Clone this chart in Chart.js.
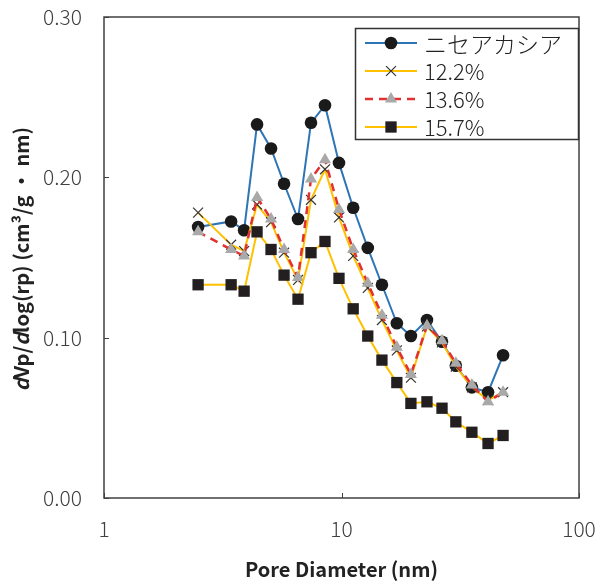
<!DOCTYPE html>
<html><head><meta charset="utf-8">
<script src="https://cdn.jsdelivr.net/npm/chart.js@4/dist/chart.umd.min.js"></script>
<style>html,body{margin:0;padding:0;background:#fff}#wrap{width:613px;height:581px}</style>
</head><body><div id="wrap"><canvas id="c" width="613" height="581"></canvas></div>
<script>
const poreDiameter = [2.49,3.43,3.89,4.41,5.05,5.73,6.56,7.44,8.52,9.76,11.2,12.9,14.8,17.1,19.6,22.9,26.5,30.3,35.4,41.4,47.9];
const seriesNames = ['ニセアカシア','12.2%','13.6%','15.7%'];
const niseAkashia = [0.169,0.1725,0.167,0.233,0.218,0.196,0.174,0.234,0.245,0.209,0.181,0.156,0.133,0.109,0.101,0.111,0.0975,0.0825,0.069,0.066,0.089];
const s122 = [0.178,0.158,0.154,0.183,0.172,0.153,0.136,0.186,0.205,0.175,0.151,0.131,0.111,0.092,0.075,0.107,0.097,0.082,0.069,0.061,0.066];
const s136 = [0.166,0.155,0.151,0.1875,0.174,0.155,0.1375,0.199,0.211,0.180,0.155,0.134,0.114,0.094,0.077,0.1075,0.098,0.084,0.0705,0.060,0.066];
const s157 = [0.133,0.133,0.129,0.166,0.155,0.139,0.124,0.153,0.160,0.137,0.118,0.101,0.086,0.072,0.059,0.060,0.056,0.0475,0.041,0.034,0.039];
const xTicks = [1,10,100];
const yTicks = [0,0.1,0.2,0.3];

const FONT = "'Noto Sans CJK JP','Noto Sans',sans-serif";
const toPts = ys => ys.map((y,i)=>({x:poreDiameter[i], y}));

const datasets = [
  {label:seriesNames[0], data:toPts(niseAkashia), borderColor:'#2E75B6', borderWidth:2,
   pointStyle:'circle', pointRadius:6.3, pointBackgroundColor:'#1a1a1a', pointBorderColor:'#1a1a1a', pointBorderWidth:0, order:4},
  {label:seriesNames[1], data:toPts(s122), borderColor:'#FFC000', borderWidth:2,
   pointStyle:'crossRot', pointRadius:7, pointBackgroundColor:'#333', pointBorderColor:'#333', pointBorderWidth:1.2, order:3},
  {label:seriesNames[2], data:toPts(s136), borderColor:'#E0302F', borderWidth:2.5, borderDash:[8,6],
   pointStyle:'triangle', pointRadius:7, pointBackgroundColor:'#A9A9A9', pointBorderColor:'#A9A9A9', pointBorderWidth:0, order:2},
  {label:seriesNames[3], data:toPts(s157), borderColor:'#FFC000', borderWidth:2,
   pointStyle:'rect', pointRadius:8, pointBackgroundColor:'#231F20', pointBorderColor:'#231F20', pointBorderWidth:0, order:1}
];

function drawMarker(ctx, style, r, x, y, fill, stroke, bw){
  ctx.save();
  ctx.fillStyle = fill; ctx.strokeStyle = stroke; ctx.lineWidth = bw;
  ctx.setLineDash([]);
  ctx.beginPath();
  if (style==='circle'){ ctx.arc(x,y,r,0,Math.PI*2); ctx.fill(); }
  else if (style==='rect'){ const s=Math.SQRT1_2*r; ctx.fillRect(x-s,y-s,2*s,2*s); }
  else if (style==='triangle'){
    let a=-Math.PI/2; ctx.moveTo(x+Math.cos(a)*r, y+Math.sin(a)*r);
    for(let k=1;k<3;k++){ a+=2*Math.PI/3; ctx.lineTo(x+Math.cos(a)*r, y+Math.sin(a)*r); }
    ctx.closePath(); ctx.fill();
  } else if (style==='crossRot'){
    const s=Math.SQRT1_2*r; ctx.moveTo(x-s,y-s); ctx.lineTo(x+s,y+s); ctx.moveTo(x+s,y-s); ctx.lineTo(x-s,y+s); ctx.stroke();
  }
  ctx.restore();
}

const framePlugin = {
  id:'frame',
  afterDatasetsDraw(chart){
    const {ctx, chartArea:a, scales} = chart;
    ctx.save();
    ctx.strokeStyle = '#404040'; ctx.lineWidth = 1.5;
    ctx.strokeRect(a.left, a.top, a.right-a.left, a.bottom-a.top);
    ctx.lineWidth = 1;
    ctx.beginPath();
    yTicks.forEach(v=>{ const py=Math.round(scales.y.getPixelForValue(v))+0.5; ctx.moveTo(a.left,py); ctx.lineTo(a.left+5,py); });
    xTicks.forEach(v=>{ const px=Math.round(scales.x.getPixelForValue(v))+0.5; ctx.moveTo(px,a.bottom); ctx.lineTo(px,a.bottom-5); });
    ctx.stroke();
    ctx.restore();
  },
  afterDraw(chart){
    const ctx = chart.ctx;
    const bx=355.5, by=28.5, bw=223, bh=111;
    ctx.save();
    ctx.fillStyle='#fff'; ctx.fillRect(bx,by,bw,bh);
    ctx.strokeStyle='#333'; ctx.lineWidth=1.5; ctx.strokeRect(bx,by,bw,bh);
    const rows=[43,71,99,127];
    chart.data.datasets.forEach((ds,i)=>{
      const y=rows[i];
      ctx.save();
      ctx.strokeStyle=ds.borderColor; ctx.lineWidth=ds.borderWidth;
      ctx.setLineDash(ds.borderDash||[]);
      ctx.beginPath(); ctx.moveTo(365,y); ctx.lineTo(417,y); ctx.stroke();
      ctx.restore();
      drawMarker(ctx, ds.pointStyle, ds.pointRadius, 391, y, ds.pointBackgroundColor, ds.pointBorderColor, ds.pointBorderWidth);
      ctx.fillStyle='#222'; ctx.textBaseline='middle'; ctx.textAlign='left';
      ctx.font = (i===0 ? "300 23px " : "300 22px ") + FONT;
      ctx.fillText(ds.label, 424, y+1);
    });
    ctx.restore();
    ctx.save();
    const cx=21, cy=259;
    ctx.translate(cx,cy); ctx.rotate(-Math.PI/2);
    const segs=[['d',true],['Vp/',false],['d',true],['log(rp) (cm³/g ・ nm)',false]];
    const fN="bold 20px "+FONT, fI="italic bold 20px "+FONT;
    let total=0; segs.forEach(s=>{ctx.font=s[1]?fI:fN; total+=ctx.measureText(s[0]).width;});
    let x=-total/2;
    ctx.fillStyle='#222'; ctx.textBaseline='middle'; ctx.textAlign='left';
    segs.forEach(s=>{ctx.font=s[1]?fI:fN; ctx.fillText(s[0],x,0); x+=ctx.measureText(s[0]).width;});
    ctx.restore();
  }
};

new Chart(document.getElementById('c'), {
  type:'line',
  data:{datasets},
  options:{
    responsive:false, animation:false, devicePixelRatio:1,
    layout:{padding:{left:0,right:34,top:17,bottom:0}},
    plugins:{legend:{display:false}, tooltip:{enabled:false}},
    scales:{
      x:{type:'logarithmic', min:1, max:100,
        afterBuildTicks(s){ s.ticks = xTicks.map(v=>({value:v})); },
        afterFit(s){ s.height = 83; s.paddingLeft=0; s.paddingRight=0; },
        grid:{display:false, drawTicks:false}, border:{display:false},
        ticks:{autoSkip:false, maxRotation:0, padding:18, color:'#404040', font:{size:21, weight:300, family:FONT}, callback:v=>String(v)},
        title:{display:true, text:'Pore Diameter (nm)', color:'#222', font:{size:20, weight:'bold', family:FONT}, padding:{top:1,bottom:0}}
      },
      y:{type:'linear', min:0, max:0.3,
        afterBuildTicks(s){ s.ticks = yTicks.map(v=>({value:v})); },
        afterFit(s){ s.width = 104; s.paddingTop=0; s.paddingBottom=0; },
        grid:{display:false, drawTicks:false}, border:{display:false},
        ticks:{padding:22, color:'#404040', font:{size:21, weight:300, family:FONT}, callback:v=>v.toFixed(2)}
      }
    }
  },
  plugins:[framePlugin]
});
</script></body></html>
